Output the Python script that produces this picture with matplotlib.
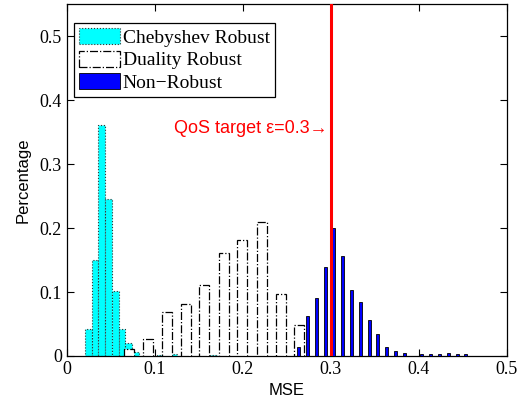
import matplotlib
matplotlib.use("Agg")
import matplotlib.pyplot as plt
import numpy as np

# Chebyshev robust histogram (bin centers, fraction)
cheb_x = [0.0245, 0.0322, 0.0398, 0.0474, 0.0553, 0.0630, 0.0705, 0.0780, 0.1066, 0.1210, 0.1668]
cheb_y = [0.042, 0.150, 0.361, 0.245, 0.102, 0.042, 0.020, 0.006, 0.002, 0.003, 0.002]

# Duality robust histogram
dual_x = [0.0708, 0.0924, 0.1140, 0.1356, 0.1560, 0.1788, 0.1993, 0.2220, 0.2436, 0.2640]
dual_y = [0.011, 0.027, 0.068, 0.081, 0.111, 0.161, 0.181, 0.209, 0.097, 0.048]

# Non-robust histogram
nr_x = [0.2636, 0.2736, 0.2836, 0.2936, 0.3036, 0.3136, 0.3236, 0.3336, 0.3436, 0.3536,
        0.3636, 0.3736, 0.3836, 0.3936, 0.4036, 0.4136, 0.4236, 0.4336, 0.4436, 0.4536]
nr_y = [0.0146, 0.063, 0.090, 0.139, 0.1995, 0.157, 0.1026, 0.084, 0.057, 0.035,
        0.0146, 0.0078, 0.005, 0.0, 0.0026, 0.0026, 0.0026, 0.005, 0.0026, 0.0026]

qos_target = 0.3

serif = ['Liberation Serif', 'DejaVu Serif']
sans = ['Liberation Sans', 'DejaVu Sans']

fig = plt.figure(figsize=(5.23, 4.05), dpi=100)
ax = fig.add_axes([0.1275, 0.121, 0.8413, 0.869])

ax.bar(cheb_x, cheb_y, width=0.00767, color='cyan', edgecolor='#333333',
       linestyle=':', linewidth=0.8, label='Chebyshev Robust', zorder=2)
ax.bar(dual_x, dual_y, width=0.0114, color='white', edgecolor='black',
       linestyle='-.', linewidth=0.9, label='Duality Robust', zorder=3)
ax.bar(nr_x, nr_y, width=0.0035, color='blue', edgecolor='black',
       linewidth=0.6, label='Non\u2212Robust', zorder=4)

ax.axvline(qos_target, color='red', linewidth=2.2, zorder=5)
ax.text(0.2965, 0.356, 'QoS target \u03b5=0.3\u2192', color='red', fontsize=13,
        family=sans, ha='right', va='center')

ax.set_xlim(0, 0.5)
ax.set_ylim(0, 0.55)
ax.set_xticks(np.arange(0, 0.51, 0.1))
ax.set_xticklabels(['0', '0.1', '0.2', '0.3', '0.4', '0.5'])
ax.set_yticks(np.arange(0, 0.51, 0.1))
ax.set_yticklabels(['0', '0.1', '0.2', '0.3', '0.4', '0.5'])
ax.tick_params(direction='in', top=True, right=True, length=5, width=0.8, labelsize=13)
for lab in ax.get_xticklabels() + ax.get_yticklabels():
    lab.set_family(serif)
for sp in ax.spines.values():
    sp.set_linewidth(0.9)

ax.set_xlabel('MSE', fontsize=12, family=sans, labelpad=4)
ax.set_ylabel('Percentage', fontsize=12, family=sans, labelpad=6)

leg = ax.legend(loc='upper left', bbox_to_anchor=(0.0166, 0.946), borderaxespad=0,
                fancybox=False, edgecolor='black', framealpha=1,
                prop={'family': serif, 'size': 14}, handlelength=2.1,
                handleheight=0.9, handletextpad=0.15, labelspacing=0.2,
                borderpad=0.25)
leg.get_frame().set_linewidth(0.9)

fig.savefig('out.png', dpi=100)
